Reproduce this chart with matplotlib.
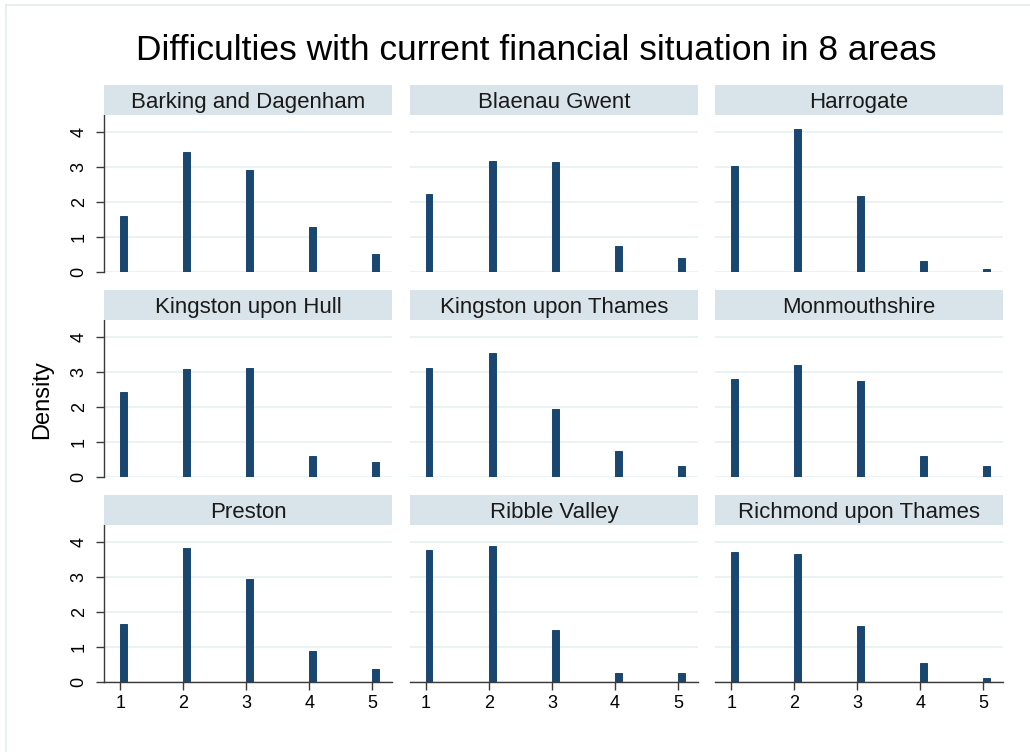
import matplotlib
matplotlib.use("Agg")
import matplotlib.pyplot as plt
from matplotlib.lines import Line2D

plt.rcParams["font.family"] = ["Liberation Sans", "DejaVu Sans"]

# Response categories (1 = living comfortably ... 5 = finding it very difficult)
categories = [1, 2, 3, 4, 5]
bin_width = 0.1026

areas = [
    "Barking and Dagenham", "Blaenau Gwent", "Harrogate",
    "Kingston upon Hull", "Kingston upon Thames", "Monmouthshire",
    "Preston", "Ribble Valley", "Richmond upon Thames",
]

# Histogram densities per area
barking_dagenham = [1.60, 3.44, 2.91, 1.29, 0.51]
blaenau_gwent = [2.23, 3.18, 3.14, 0.76, 0.42]
harrogate = [3.03, 4.10, 2.17, 0.32, 0.10]
kingston_hull = [2.43, 3.10, 3.12, 0.60, 0.45]
kingston_thames = [3.12, 3.55, 1.95, 0.74, 0.32]
monmouthshire = [2.80, 3.21, 2.76, 0.60, 0.33]
preston = [1.65, 3.83, 2.96, 0.90, 0.39]
ribble_valley = [3.78, 3.90, 1.49, 0.27, 0.27]
richmond_thames = [3.73, 3.67, 1.60, 0.54, 0.12]

densities = [barking_dagenham, blaenau_gwent, harrogate,
             kingston_hull, kingston_thames, monmouthshire,
             preston, ribble_valley, richmond_thames]

y_ticks = [0, 1, 2, 3, 4]
x_ticks = [1, 2, 3, 4, 5]

BAR = "#1a476f"
STRIP = "#d9e4ea"
GRID = "#e8f0f1"
AXIS = "#3a3a3a"

W, H = 1030, 752
fig = plt.figure(figsize=(W / 100, H / 100), dpi=100)
fig.patch.set_facecolor("white")

col_left = [104.3, 410.0, 715.3]
ax_w = 287.7
row_zero = [272.3, 477.3, 682.3]
ax_h = 157.3
strip_h = 30.0

for i, (name, vals) in enumerate(zip(areas, densities)):
    r, c = divmod(i, 3)
    left = col_left[c] / W
    bottom = 1 - row_zero[r] / H
    ax = fig.add_axes([left, bottom, ax_w / W, ax_h / H])
    ax.set_xlim(0.746, 5.31)
    ax.set_ylim(0, 4.49)
    for yv in y_ticks:
        ax.axhline(yv, color=GRID, lw=1.2, zorder=0)
    ax.bar(categories, vals, width=bin_width, align="edge",
           color=BAR, edgecolor=BAR, linewidth=0.7, zorder=2)
    for s in ax.spines.values():
        s.set_visible(False)
    ax.set_yticks(y_ticks)
    ax.set_xticks(x_ticks)
    ax.tick_params(axis="both", colors=AXIS, length=6, width=1.0,
                   labelsize=13, labelcolor="black")
    ax.tick_params(axis="x", pad=3)
    ax.tick_params(axis="y", pad=6)
    if c == 0:
        ax.spines["left"].set_visible(True)
        ax.spines["left"].set_color(AXIS)
        ax.spines["left"].set_linewidth(1.0)
        for lab in ax.get_yticklabels():
            lab.set_rotation(90)
            lab.set_va("center")
    else:
        ax.tick_params(axis="y", left=False, labelleft=False)
    if r == 2:
        ax.spines["bottom"].set_visible(True)
        ax.spines["bottom"].set_color(AXIS)
        ax.spines["bottom"].set_linewidth(1.0)
    else:
        ax.tick_params(axis="x", bottom=False, labelbottom=False)

    # facet strip
    sax = fig.add_axes([left, bottom + ax_h / H, ax_w / W, strip_h / H])
    sax.set_facecolor(STRIP)
    sax.set_xticks([])
    sax.set_yticks([])
    for s in sax.spines.values():
        s.set_visible(False)
    sax.text(0.5, 0.5, name, ha="center", va="center_baseline", fontsize=16,
             color="#1a1a1a", transform=sax.transAxes)

fig.text(536 / W, 1 - 50 / H, "Difficulties with current financial situation in 8 areas",
         ha="center", va="center", fontsize=25.5, color="black")
fig.text(42 / W, 1 - 400 / H, "Density", ha="center", va="center",
         rotation=90, fontsize=17, color="black")

# light frame around the graph region
fig.add_artist(Line2D([5.5 / W, 5.5 / W], [0, 1 - 4.5 / H], transform=fig.transFigure,
                      color="#e3ecec", lw=1.2))
fig.add_artist(Line2D([5.5 / W, 1], [1 - 4.5 / H, 1 - 4.5 / H], transform=fig.transFigure,
                      color="#e3ecec", lw=1.2))

fig.savefig("out.png", dpi=100, facecolor="white")
